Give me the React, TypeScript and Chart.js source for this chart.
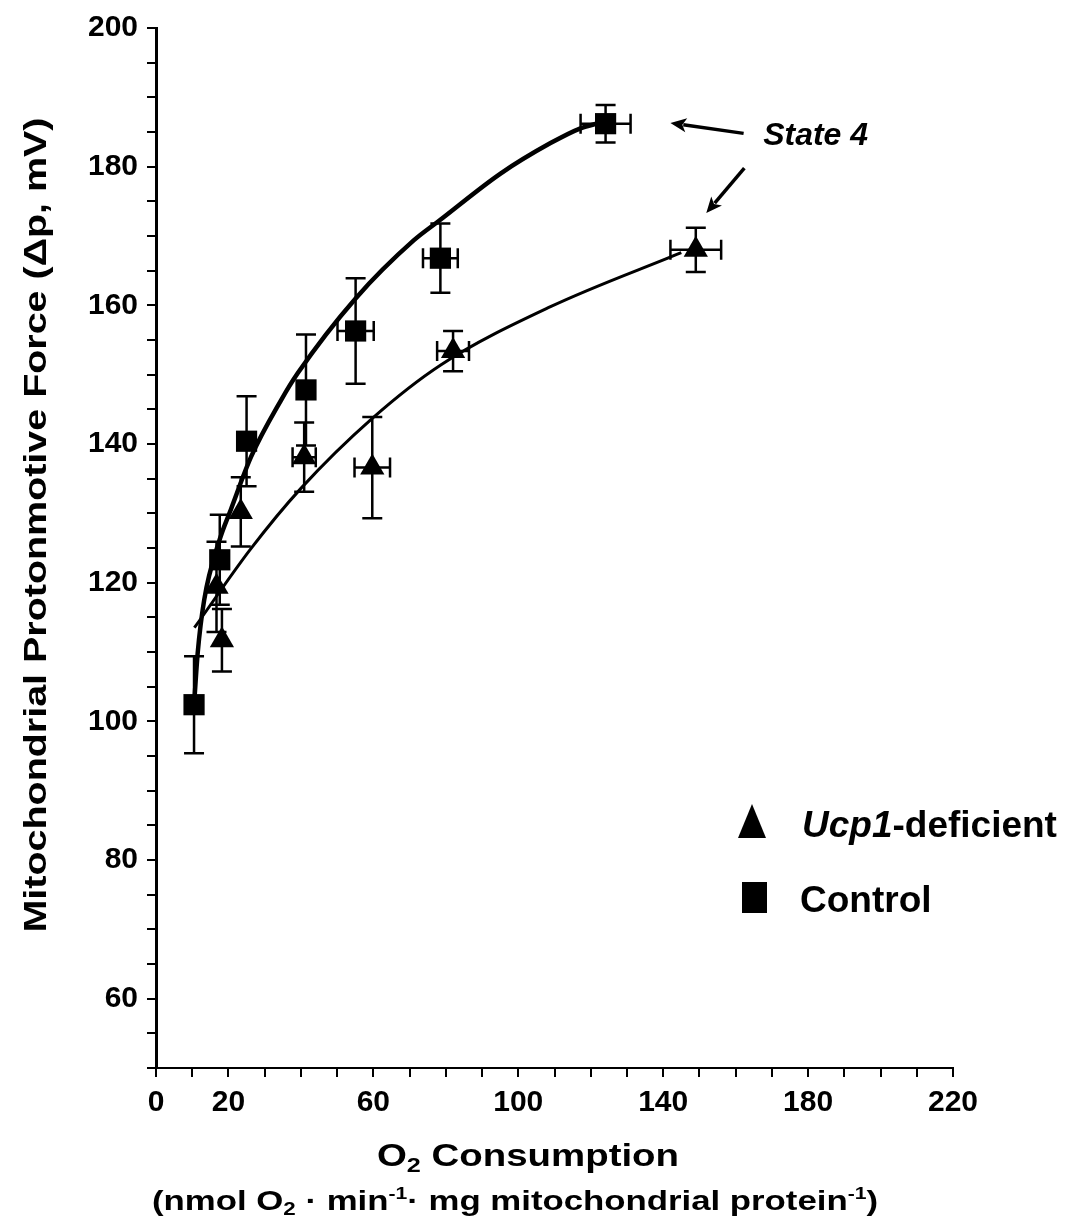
import React, { useEffect, useRef } from 'react';
import { Chart, registerables } from 'chart.js';

Chart.register(...registerables);

const FONT = '"Liberation Sans", Arial, Helvetica, sans-serif';

// Control (filled squares)
const controlX = [10.5, 17.6, 25.0, 41.4, 55.1, 78.5, 124.1];
const controlY = [102.4, 123.3, 140.4, 147.8, 156.3, 166.8, 186.2];
const controlYErr = [7.0, 6.5, 6.5, 8.0, 7.6, 5.0, 2.7];
const controlXErr = [0, 0, 0, 0, 5.0, 4.8, 6.9];

// Ucp1-deficient (triangles)
const ucpX = [16.7, 18.2, 23.4, 40.9, 59.7, 82.0, 149.0];
const ucpY = [119.4, 111.7, 130.2, 138.1, 136.6, 153.4, 168.0];
const ucpYErr = [6.5, 4.5, 5.0, 5.0, 7.3, 2.9, 3.2];
const ucpXErr = [0, 0, 0, 3.2, 4.9, 4.4, 7.0];

// Fitted curves
const fitControlX = [10.5, 11.5, 13.3, 17.5, 20.7, 26.2, 34.5, 39.1, 55.1, 71.2, 78.4, 95.1, 108.9, 117.0, 123.0];
const fitControlY = [102.3, 109.8, 117.5, 126.1, 130.6, 138.1, 146.3, 150.2, 161.0, 169.4, 172.3, 179.0, 183.4, 185.5, 186.4];
const fitUcpX = [10.6, 26.2, 40.0, 59.7, 78.6, 108.9, 145.0];
const fitUcpY = [113.5, 124.9, 133.6, 143.7, 151.4, 159.8, 167.6];

const xTickLabels = [0, 20, 60, 100, 140, 180, 220];
const yTickLabels = [60, 80, 100, 120, 140, 160, 180, 200];

// "State 4" annotation (data units)
const annotationLabel = 'State 4';
const annotationPos = [167.6, 183.1];
const arrowTailX = [162.2, 162.4];
const arrowTailY = [184.8, 179.8];
const arrowTipX = [142.0, 151.9];
const arrowTipY = [186.3, 173.3];

type Seg = { t: string; s: number; dy?: number; italic?: boolean };

function drawRich(ctx: CanvasRenderingContext2D, segs: Seg[], cx: number, baseY: number, targetW: number | null, rot = 0) {
  ctx.save();
  const fonts = segs.map((g) => `${g.italic ? 'italic ' : ''}bold ${g.s}px ${FONT}`);
  let total = 0;
  const widths = segs.map((g, i) => {
    ctx.font = fonts[i];
    const w = ctx.measureText(g.t).width;
    total += w;
    return w;
  });
  const sx = targetW ? targetW / total : 1;
  ctx.translate(cx, baseY);
  ctx.rotate(rot);
  ctx.scale(sx, 1);
  ctx.fillStyle = '#000';
  ctx.textBaseline = 'alphabetic';
  ctx.textAlign = 'left';
  let x = -total / 2;
  segs.forEach((g, i) => {
    ctx.font = fonts[i];
    ctx.fillText(g.t, x, g.dy || 0);
    x += widths[i];
  });
  ctx.restore();
}

function drawArrow(ctx: CanvasRenderingContext2D, x1: number, y1: number, x2: number, y2: number) {
  const ang = Math.atan2(y2 - y1, x2 - x1);
  const hl = 16;
  const hw = 7;
  const bx = x2 - Math.cos(ang) * hl;
  const by = y2 - Math.sin(ang) * hl;
  ctx.beginPath();
  ctx.moveTo(x1, y1);
  ctx.lineTo(bx + Math.cos(ang) * 3, by + Math.sin(ang) * 3);
  ctx.lineWidth = 3.5;
  ctx.stroke();
  ctx.beginPath();
  ctx.moveTo(x2, y2);
  ctx.lineTo(bx - Math.sin(ang) * hw, by + Math.cos(ang) * hw);
  ctx.lineTo(bx + Math.cos(ang) * 4, by + Math.sin(ang) * 4);
  ctx.lineTo(bx + Math.sin(ang) * hw, by - Math.cos(ang) * hw);
  ctx.closePath();
  ctx.fill();
}

const errorBarPlugin = {
  id: 'errorBars',
  afterDatasetsDraw(chart: any) {
    const ctx = chart.ctx as CanvasRenderingContext2D;
    const sx = chart.scales.x;
    const sy = chart.scales.y;
    const cap = 10;
    const draw = (xs: number[], ys: number[], xe: number[], ye: number[]) => {
      xs.forEach((xv, i) => {
        const px = sx.getPixelForValue(xv);
        const py = sy.getPixelForValue(ys[i]);
        ctx.beginPath();
        if (ye[i] > 0) {
          const t = sy.getPixelForValue(ys[i] + ye[i]);
          const b = sy.getPixelForValue(ys[i] - ye[i]);
          ctx.moveTo(px, t); ctx.lineTo(px, b);
          ctx.moveTo(px - cap, t); ctx.lineTo(px + cap, t);
          ctx.moveTo(px - cap, b); ctx.lineTo(px + cap, b);
        }
        if (xe[i] > 0) {
          const l = sx.getPixelForValue(xv - xe[i]);
          const r = sx.getPixelForValue(xv + xe[i]);
          ctx.moveTo(l, py); ctx.lineTo(r, py);
          ctx.moveTo(l, py - cap); ctx.lineTo(l, py + cap);
          ctx.moveTo(r, py - cap); ctx.lineTo(r, py + cap);
        }
        ctx.stroke();
      });
    };
    ctx.save();
    ctx.strokeStyle = '#000';
    ctx.lineWidth = 2.5;
    draw(controlX, controlY, controlXErr, controlYErr);
    draw(ucpX, ucpY, ucpXErr, ucpYErr);
    ctx.restore();
  },
};

const decorPlugin = {
  id: 'decor',
  afterDraw(chart: any) {
    const ctx = chart.ctx as CanvasRenderingContext2D;
    const sx = chart.scales.x;
    const sy = chart.scales.y;
    const area = chart.chartArea;
    ctx.save();
    ctx.fillStyle = '#000';
    ctx.strokeStyle = '#000';

    // Axis titles
    drawRich(ctx, [{ t: 'Mitochondrial Protonmotive Force (\u0394p, mV)', s: 31 }], 46, 525, 815, -Math.PI / 2);
    drawRich(ctx, [{ t: 'O', s: 32 }, { t: '2', s: 21, dy: 6 }, { t: ' Consumption', s: 32 }], 528, 1166, 302);
    drawRich(
      ctx,
      [
        { t: '(nmol O', s: 28 },
        { t: '2', s: 18, dy: 5 },
        { t: ' \u00b7 min', s: 28 },
        { t: '-1', s: 17, dy: -11 },
        { t: '\u00b7 mg mitochondrial protein', s: 28 },
        { t: '-1', s: 17, dy: -11 },
        { t: ')', s: 28 },
      ],
      515,
      1210,
      726
    );

    // State 4 annotation
    ctx.font = `italic bold 32px ${FONT}`;
    ctx.textAlign = 'left';
    ctx.textBaseline = 'alphabetic';
    ctx.fillText(annotationLabel, sx.getPixelForValue(annotationPos[0]), sy.getPixelForValue(annotationPos[1]));
    arrowTailX.forEach((_, i) => {
      drawArrow(
        ctx,
        sx.getPixelForValue(arrowTailX[i]),
        sy.getPixelForValue(arrowTailY[i]),
        sx.getPixelForValue(arrowTipX[i]),
        sy.getPixelForValue(arrowTipY[i])
      );
    });

    // Legend
    const lx = area.right - 201;
    const ly1 = area.bottom - 246;
    const ly2 = area.bottom - 170;
    ctx.beginPath();
    ctx.moveTo(lx, ly1 - 18);
    ctx.lineTo(lx + 14, ly1 + 16);
    ctx.lineTo(lx - 14, ly1 + 16);
    ctx.closePath();
    ctx.fill();
    ctx.fillRect(lx - 10, ly2 - 16, 25, 31);
    ctx.textBaseline = 'alphabetic';
    ctx.font = `italic bold 37px ${FONT}`;
    const tx = lx + 50;
    ctx.fillText('Ucp1', tx, ly1 + 15);
    const w1 = ctx.measureText('Ucp1').width;
    ctx.font = `bold 37px ${FONT}`;
    ctx.fillText('-deficient', tx + w1, ly1 + 15);
    ctx.fillText('Control', tx - 2, ly2 + 14);
    ctx.restore();
  },
};

const zip = (xs: number[], ys: number[]) => xs.map((x, i) => ({ x, y: ys[i] }));

export default function App() {
  const ref = useRef<HTMLCanvasElement | null>(null);
  useEffect(() => {
    if (!ref.current) return;
    const tickFont = { family: FONT, size: 30, weight: 'bold' as const };
    const chart = new Chart(ref.current, {
      type: 'scatter',
      data: {
        datasets: [
          {
            label: 'Control fit',
            data: zip(fitControlX, fitControlY),
            showLine: true,
            borderColor: '#000',
            borderWidth: 4.5,
            pointRadius: 0,
            cubicInterpolationMode: 'monotone',
            fill: false,
          } as any,
          {
            label: 'Ucp1 fit',
            data: zip(fitUcpX, fitUcpY),
            showLine: true,
            borderColor: '#000',
            borderWidth: 3,
            pointRadius: 0,
            cubicInterpolationMode: 'monotone',
            fill: false,
          } as any,
          {
            label: 'Control',
            data: zip(controlX, controlY),
            pointStyle: 'rect',
            pointRadius: 15,
            backgroundColor: '#000',
            borderColor: '#000',
            borderWidth: 0,
          },
          {
            label: 'Ucp1-deficient',
            data: zip(ucpX, ucpY),
            pointStyle: 'triangle',
            pointRadius: 14,
            backgroundColor: '#000',
            borderColor: '#000',
            borderWidth: 0,
          },
        ],
      },
      options: {
        responsive: false,
        animation: false,
        devicePixelRatio: 1,
        events: [],
        layout: { padding: { top: 28, right: 125, left: 0, bottom: 0 } },
        plugins: { legend: { display: false }, tooltip: { enabled: false } },
        scales: {
          x: {
            type: 'linear',
            min: 0,
            max: 220,
            afterFit: (s: any) => {
              s.height = 154;
            },
            ticks: {
              stepSize: 10,
              autoSkip: false,
              maxRotation: 0,
              color: '#000',
              font: tickFont,
              padding: 8,
              callback: (v: any) => (xTickLabels.includes(Number(v)) ? String(v) : ''),
            },
            grid: { drawOnChartArea: false, drawTicks: true, tickLength: 9, color: '#000', lineWidth: 2 },
            border: { display: true, color: '#000', width: 2 },
          },
          y: {
            type: 'linear',
            min: 50,
            max: 200,
            afterFit: (s: any) => {
              s.width = 156;
            },
            ticks: {
              stepSize: 5,
              autoSkip: false,
              color: '#000',
              font: tickFont,
              padding: 9,
              callback: (v: any) => (yTickLabels.includes(Number(v)) ? String(v) : ''),
            },
            grid: { drawOnChartArea: false, drawTicks: true, tickLength: 9, color: '#000', lineWidth: 2 },
            border: { display: true, color: '#000', width: 3 },
          },
        },
      },
      plugins: [errorBarPlugin, decorPlugin],
    });
    return () => chart.destroy();
  }, []);
  return (
    <div style={{ position: 'fixed', left: 0, top: 0, width: 1078, height: 1222, background: '#fff' }}>
      <canvas ref={ref} width={1078} height={1222} style={{ width: 1078, height: 1222, display: 'block' }} />
    </div>
  );
}
